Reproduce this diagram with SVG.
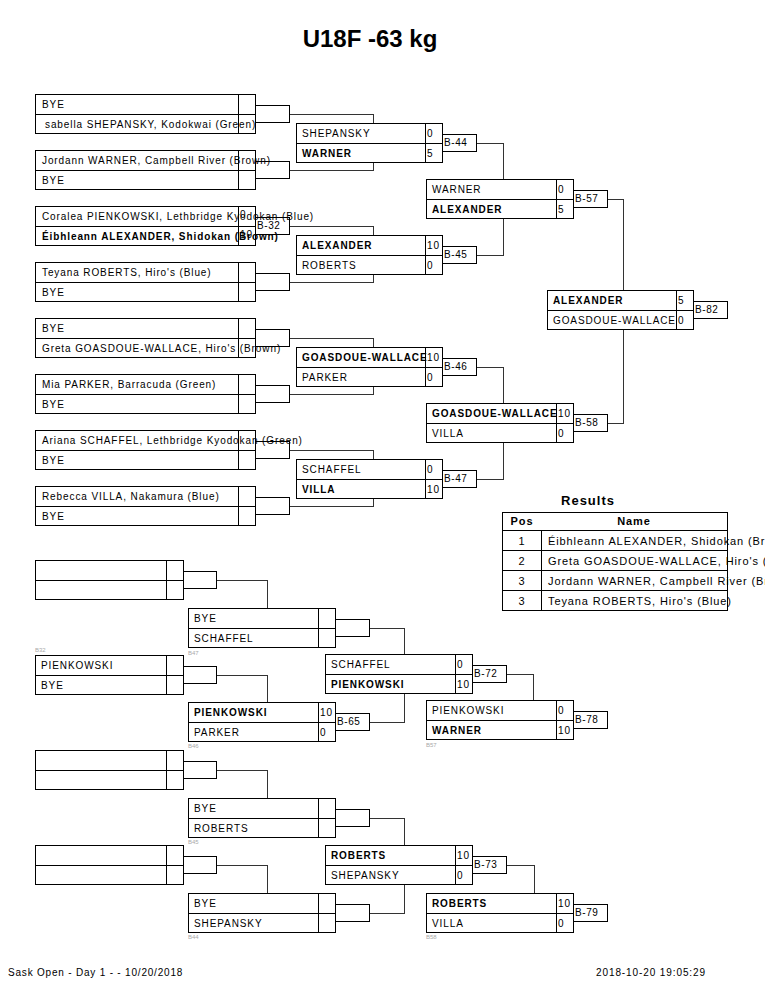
<svg xmlns="http://www.w3.org/2000/svg" width="765" height="990" viewBox="0 0 765 990">
<style>
.bx{fill:none;stroke:#000;stroke-width:1;shape-rendering:crispEdges}
.sep{stroke:#000;stroke-width:1;shape-rendering:crispEdges}
.nr{fill:none;stroke:#000;stroke-width:1;shape-rendering:crispEdges}
.cn{fill:none;stroke:#333;stroke-width:1;shape-rendering:crispEdges}
text{font-family:"Liberation Sans",Arial,sans-serif;fill:#000}
.t{font-size:10px;letter-spacing:0.9px}
.b{font-weight:bold}
.lb{font-size:10px;letter-spacing:0.6px}
.sm{font-size:6px;fill:#aaa}
.tt{font-size:11px;letter-spacing:0.9px}
</style>
<rect width="765" height="990" fill="#fff"/>
<text x="370" y="47" text-anchor="middle" style="font-size:24px;font-weight:bold">U18F -63 kg</text>

<g id="connectors">
<polyline class="cn" points="289,114 373,114 373,123"/>
<polyline class="cn" points="289,170 373,170 373,162"/>
<polyline class="cn" points="289,226 373,226 373,235"/>
<polyline class="cn" points="289,282 373,282 373,274"/>
<polyline class="cn" points="289,338 373,338 373,347"/>
<polyline class="cn" points="289,394 373,394 373,386"/>
<polyline class="cn" points="289,450 373,450 373,459"/>
<polyline class="cn" points="289,506 373,506 373,498"/>
<polyline class="cn" points="476,143 503,143 503,179"/>
<polyline class="cn" points="476,255 503,255 503,218"/>
<polyline class="cn" points="476,367 503,367 503,403"/>
<polyline class="cn" points="476,479 503,479 503,442"/>
<polyline class="cn" points="607,199 623,199 623,290"/>
<polyline class="cn" points="607,423 623,423 623,329"/>
<polyline class="cn" points="216,580 267,580 267,608"/>
<polyline class="cn" points="216,675 267,675 267,702"/>
<polyline class="cn" points="369,628 404,628 404,654"/>
<polyline class="cn" points="369,722 404,722 404,693"/>
<polyline class="cn" points="506,674 533,674 533,700"/>
<polyline class="cn" points="216,770 267,770 267,798"/>
<polyline class="cn" points="216,865 267,865 267,893"/>
<polyline class="cn" points="369,818 404,818 404,845"/>
<polyline class="cn" points="369,913 404,913 404,884"/>
<polyline class="cn" points="506,865 534,865 534,893"/>
</g>

<!-- Main bracket round 1 -->
<g id="r1m1">
<rect class="bx" x="35" y="94" width="220" height="39"/><line class="sep" x1="35" y1="114" x2="255" y2="114"/><line class="sep" x1="238" y1="94" x2="238" y2="133"/>
<rect class="nr" x="255" y="105" width="34" height="17"/>
<text class="t" x="42" y="108">BYE</text><text class="t" x="45" y="128">sabella SHEPANSKY, Kodokwai (Green)</text>
</g>
<g id="r1m2">
<rect class="bx" x="35" y="150" width="220" height="39"/><line class="sep" x1="35" y1="170" x2="255" y2="170"/><line class="sep" x1="238" y1="150" x2="238" y2="189"/>
<rect class="nr" x="255" y="161" width="34" height="17"/>
<text class="t" x="42" y="164">Jordann WARNER, Campbell River (Brown)</text><text class="t" x="42" y="184">BYE</text>
</g>
<g id="r1m3">
<rect class="bx" x="35" y="206" width="220" height="39"/><line class="sep" x1="35" y1="226" x2="255" y2="226"/><line class="sep" x1="238" y1="206" x2="238" y2="245"/>
<rect class="nr" x="255" y="217" width="34" height="17"/>
<text class="t" x="42" y="220">Coralea PIENKOWSKI, Lethbridge Kyodokan (Blue)</text><text class="t b" x="42" y="240">Éibhleann ALEXANDER, Shidokan (Brown)</text>
<text class="t" x="240" y="218">0</text><text class="t" x="240" y="238">10</text>
<text class="lb" x="257" y="229">B-32</text>
</g>
<g id="r1m4">
<rect class="bx" x="35" y="262" width="220" height="39"/><line class="sep" x1="35" y1="282" x2="255" y2="282"/><line class="sep" x1="238" y1="262" x2="238" y2="301"/>
<rect class="nr" x="255" y="273" width="34" height="17"/>
<text class="t" x="42" y="276">Teyana ROBERTS, Hiro's (Blue)</text><text class="t" x="42" y="296">BYE</text>
</g>
<g id="r1m5">
<rect class="bx" x="35" y="318" width="220" height="39"/><line class="sep" x1="35" y1="338" x2="255" y2="338"/><line class="sep" x1="238" y1="318" x2="238" y2="357"/>
<rect class="nr" x="255" y="329" width="34" height="17"/>
<text class="t" x="42" y="332">BYE</text><text class="t" x="42" y="352">Greta GOASDOUE-WALLACE, Hiro's (Brown)</text>
</g>
<g id="r1m6">
<rect class="bx" x="35" y="374" width="220" height="39"/><line class="sep" x1="35" y1="394" x2="255" y2="394"/><line class="sep" x1="238" y1="374" x2="238" y2="413"/>
<rect class="nr" x="255" y="385" width="34" height="17"/>
<text class="t" x="42" y="388">Mia PARKER, Barracuda (Green)</text><text class="t" x="42" y="408">BYE</text>
</g>
<g id="r1m7">
<rect class="bx" x="35" y="430" width="220" height="39"/><line class="sep" x1="35" y1="450" x2="255" y2="450"/><line class="sep" x1="238" y1="430" x2="238" y2="469"/>
<rect class="nr" x="255" y="441" width="34" height="17"/>
<text class="t" x="42" y="444">Ariana SCHAFFEL, Lethbridge Kyodokan (Green)</text><text class="t" x="42" y="464">BYE</text>
</g>
<g id="r1m8">
<rect class="bx" x="35" y="486" width="220" height="39"/><line class="sep" x1="35" y1="506" x2="255" y2="506"/><line class="sep" x1="238" y1="486" x2="238" y2="525"/>
<rect class="nr" x="255" y="497" width="34" height="17"/>
<text class="t" x="42" y="500">Rebecca VILLA, Nakamura (Blue)</text><text class="t" x="42" y="520">BYE</text>
</g>

<!-- Round 2 -->
<g id="b44">
<rect class="bx" x="296" y="123" width="146" height="39"/><line class="sep" x1="296" y1="143" x2="442" y2="143"/><line class="sep" x1="425" y1="123" x2="425" y2="162"/>
<rect class="nr" x="442" y="134" width="34" height="17"/>
<text class="t" x="302" y="137">SHEPANSKY</text><text class="t b" x="302" y="157">WARNER</text>
<text class="t" x="427" y="137">0</text><text class="t" x="427" y="157">5</text>
<text class="lb" x="444" y="146">B-44</text>
</g>
<g id="b45">
<rect class="bx" x="296" y="235" width="146" height="39"/><line class="sep" x1="296" y1="255" x2="442" y2="255"/><line class="sep" x1="425" y1="235" x2="425" y2="274"/>
<rect class="nr" x="442" y="246" width="34" height="17"/>
<text class="t b" x="302" y="249">ALEXANDER</text><text class="t" x="302" y="269">ROBERTS</text>
<text class="t" x="427" y="249">10</text><text class="t" x="427" y="269">0</text>
<text class="lb" x="444" y="258">B-45</text>
</g>
<g id="b46">
<rect class="bx" x="296" y="347" width="146" height="39"/><line class="sep" x1="296" y1="367" x2="442" y2="367"/><line class="sep" x1="425" y1="347" x2="425" y2="386"/>
<rect class="nr" x="442" y="358" width="34" height="17"/>
<text class="t b" x="302" y="361">GOASDOUE-WALLACE</text><text class="t" x="302" y="381">PARKER</text>
<text class="t" x="427" y="361">10</text><text class="t" x="427" y="381">0</text>
<text class="lb" x="444" y="370">B-46</text>
</g>
<g id="b47">
<rect class="bx" x="296" y="459" width="146" height="39"/><line class="sep" x1="296" y1="479" x2="442" y2="479"/><line class="sep" x1="425" y1="459" x2="425" y2="498"/>
<rect class="nr" x="442" y="470" width="34" height="17"/>
<text class="t" x="302" y="473">SCHAFFEL</text><text class="t b" x="302" y="493">VILLA</text>
<text class="t" x="427" y="473">0</text><text class="t" x="427" y="493">10</text>
<text class="lb" x="444" y="482">B-47</text>
</g>

<!-- Round 3 -->
<g id="b57">
<rect class="bx" x="426" y="179" width="147" height="39"/><line class="sep" x1="426" y1="199" x2="573" y2="199"/><line class="sep" x1="556" y1="179" x2="556" y2="218"/>
<rect class="nr" x="573" y="190" width="34" height="17"/>
<text class="t" x="432" y="193">WARNER</text><text class="t b" x="432" y="213">ALEXANDER</text>
<text class="t" x="558" y="193">0</text><text class="t" x="558" y="213">5</text>
<text class="lb" x="575" y="202">B-57</text>
</g>
<g id="b58">
<rect class="bx" x="426" y="403" width="147" height="39"/><line class="sep" x1="426" y1="423" x2="573" y2="423"/><line class="sep" x1="556" y1="403" x2="556" y2="442"/>
<rect class="nr" x="573" y="414" width="34" height="17"/>
<text class="t b" x="432" y="417">GOASDOUE-WALLACE</text><text class="t" x="432" y="437">VILLA</text>
<text class="t" x="558" y="417">10</text><text class="t" x="558" y="437">0</text>
<text class="lb" x="575" y="426">B-58</text>
</g>

<!-- Final -->
<g id="b82">
<rect class="bx" x="547" y="290" width="146" height="39"/><line class="sep" x1="547" y1="310" x2="693" y2="310"/><line class="sep" x1="676" y1="290" x2="676" y2="329"/>
<rect class="nr" x="693" y="301" width="34" height="17"/>
<text class="t b" x="553" y="304">ALEXANDER</text><text class="t" x="553" y="324">GOASDOUE-WALLACE</text>
<text class="t" x="678" y="304">5</text><text class="t" x="678" y="324">0</text>
<text class="lb" x="695" y="313">B-82</text>
</g>

<!-- Results -->
<g id="results">
<text x="588" y="505" text-anchor="middle" style="font-size:13px;font-weight:bold;letter-spacing:1px">Results</text>
<rect class="bx" x="502" y="512" width="225" height="98"/>
<line class="sep" x1="502" y1="530" x2="727" y2="530"/>
<line class="sep" x1="502" y1="550" x2="727" y2="550"/>
<line class="sep" x1="502" y1="570" x2="727" y2="570"/>
<line class="sep" x1="502" y1="590" x2="727" y2="590"/>
<line class="sep" x1="541" y1="530" x2="541" y2="610"/>
<text class="tt b" x="522" y="525" text-anchor="middle">Pos</text>
<text class="tt b" x="634" y="525" text-anchor="middle">Name</text>
<text class="tt" x="522" y="545" text-anchor="middle">1</text>
<text class="tt" x="548" y="545">Éibhleann ALEXANDER, Shidokan (Brown)</text>
<text class="tt" x="522" y="565" text-anchor="middle">2</text>
<text class="tt" x="548" y="565">Greta GOASDOUE-WALLACE, Hiro's (Brown)</text>
<text class="tt" x="522" y="585" text-anchor="middle">3</text>
<text class="tt" x="548" y="585">Jordann WARNER, Campbell River (Brown)</text>
<text class="tt" x="522" y="605" text-anchor="middle">3</text>
<text class="tt" x="548" y="605">Teyana ROBERTS, Hiro's (Blue)</text>
</g>

<!-- Repechage upper -->
<g id="rep-e1">
<rect class="bx" x="35" y="560" width="148" height="39"/><line class="sep" x1="35" y1="580" x2="183" y2="580"/><line class="sep" x1="166" y1="560" x2="166" y2="599"/>
<rect class="nr" x="183" y="571" width="33" height="17"/>
</g>
<g id="rep-r1">
<rect class="bx" x="188" y="608" width="147" height="39"/><line class="sep" x1="188" y1="628" x2="335" y2="628"/><line class="sep" x1="318" y1="608" x2="318" y2="647"/>
<rect class="nr" x="335" y="619" width="34" height="17"/>
<text class="t" x="194" y="622">BYE</text><text class="t" x="194" y="642">SCHAFFEL</text>
<text class="sm" x="188" y="655">B47</text>
</g>
<g id="rep-p1">
<text class="sm" x="35" y="652">B32</text>
<rect class="bx" x="35" y="655" width="148" height="39"/><line class="sep" x1="35" y1="675" x2="183" y2="675"/><line class="sep" x1="166" y1="655" x2="166" y2="694"/>
<rect class="nr" x="183" y="666" width="33" height="17"/>
<text class="t" x="41" y="669">PIENKOWSKI</text><text class="t" x="41" y="689">BYE</text>
</g>
<g id="b65">
<rect class="bx" x="188" y="702" width="147" height="39"/><line class="sep" x1="188" y1="722" x2="335" y2="722"/><line class="sep" x1="318" y1="702" x2="318" y2="741"/>
<rect class="nr" x="335" y="713" width="34" height="17"/>
<text class="t b" x="194" y="716">PIENKOWSKI</text><text class="t" x="194" y="736">PARKER</text>
<text class="t" x="320" y="716">10</text><text class="t" x="320" y="736">0</text>
<text class="lb" x="337" y="725">B-65</text>
<text class="sm" x="188" y="748">B46</text>
</g>
<g id="b72">
<rect class="bx" x="325" y="654" width="147" height="39"/><line class="sep" x1="325" y1="674" x2="472" y2="674"/><line class="sep" x1="455" y1="654" x2="455" y2="693"/>
<rect class="nr" x="472" y="665" width="34" height="17"/>
<text class="t" x="331" y="668">SCHAFFEL</text><text class="t b" x="331" y="688">PIENKOWSKI</text>
<text class="t" x="457" y="668">0</text><text class="t" x="457" y="688">10</text>
<text class="lb" x="474" y="677">B-72</text>
</g>
<g id="b78">
<rect class="bx" x="426" y="700" width="147" height="39"/><line class="sep" x1="426" y1="720" x2="573" y2="720"/><line class="sep" x1="556" y1="700" x2="556" y2="739"/>
<rect class="nr" x="573" y="711" width="34" height="17"/>
<text class="t" x="432" y="714">PIENKOWSKI</text><text class="t b" x="432" y="734">WARNER</text>
<text class="t" x="558" y="714">0</text><text class="t" x="558" y="734">10</text>
<text class="lb" x="575" y="723">B-78</text>
<text class="sm" x="426" y="747">B57</text>
</g>

<!-- Repechage lower -->
<g id="rep-e2">
<rect class="bx" x="35" y="750" width="148" height="39"/><line class="sep" x1="35" y1="770" x2="183" y2="770"/><line class="sep" x1="166" y1="750" x2="166" y2="789"/>
<rect class="nr" x="183" y="761" width="33" height="17"/>
</g>
<g id="rep-r3">
<rect class="bx" x="188" y="798" width="147" height="39"/><line class="sep" x1="188" y1="818" x2="335" y2="818"/><line class="sep" x1="318" y1="798" x2="318" y2="837"/>
<rect class="nr" x="335" y="809" width="34" height="17"/>
<text class="t" x="194" y="812">BYE</text><text class="t" x="194" y="832">ROBERTS</text>
<text class="sm" x="188" y="844">B45</text>
</g>
<g id="rep-e3">
<rect class="bx" x="35" y="845" width="148" height="39"/><line class="sep" x1="35" y1="865" x2="183" y2="865"/><line class="sep" x1="166" y1="845" x2="166" y2="884"/>
<rect class="nr" x="183" y="856" width="33" height="17"/>
</g>
<g id="rep-r4">
<rect class="bx" x="188" y="893" width="147" height="39"/><line class="sep" x1="188" y1="913" x2="335" y2="913"/><line class="sep" x1="318" y1="893" x2="318" y2="932"/>
<rect class="nr" x="335" y="904" width="34" height="17"/>
<text class="t" x="194" y="907">BYE</text><text class="t" x="194" y="927">SHEPANSKY</text>
<text class="sm" x="188" y="939">B44</text>
</g>
<g id="b73">
<rect class="bx" x="325" y="845" width="147" height="39"/><line class="sep" x1="325" y1="865" x2="472" y2="865"/><line class="sep" x1="455" y1="845" x2="455" y2="884"/>
<rect class="nr" x="472" y="856" width="34" height="17"/>
<text class="t b" x="331" y="859">ROBERTS</text><text class="t" x="331" y="879">SHEPANSKY</text>
<text class="t" x="457" y="859">10</text><text class="t" x="457" y="879">0</text>
<text class="lb" x="474" y="868">B-73</text>
</g>
<g id="b79">
<rect class="bx" x="426" y="893" width="147" height="39"/><line class="sep" x1="426" y1="913" x2="573" y2="913"/><line class="sep" x1="556" y1="893" x2="556" y2="932"/>
<rect class="nr" x="573" y="904" width="34" height="17"/>
<text class="t b" x="432" y="907">ROBERTS</text><text class="t" x="432" y="927">VILLA</text>
<text class="t" x="558" y="907">10</text><text class="t" x="558" y="927">0</text>
<text class="lb" x="575" y="916">B-79</text>
<text class="sm" x="426" y="939">B58</text>
</g>

<g id="footer">
<text class="t" x="8" y="976" style="letter-spacing:0.8px">Sask Open - Day 1 - - 10/20/2018</text>
<text class="t" x="596" y="976" style="letter-spacing:0.9px">2018-10-20 19:05:29</text>
</g>
</svg>
